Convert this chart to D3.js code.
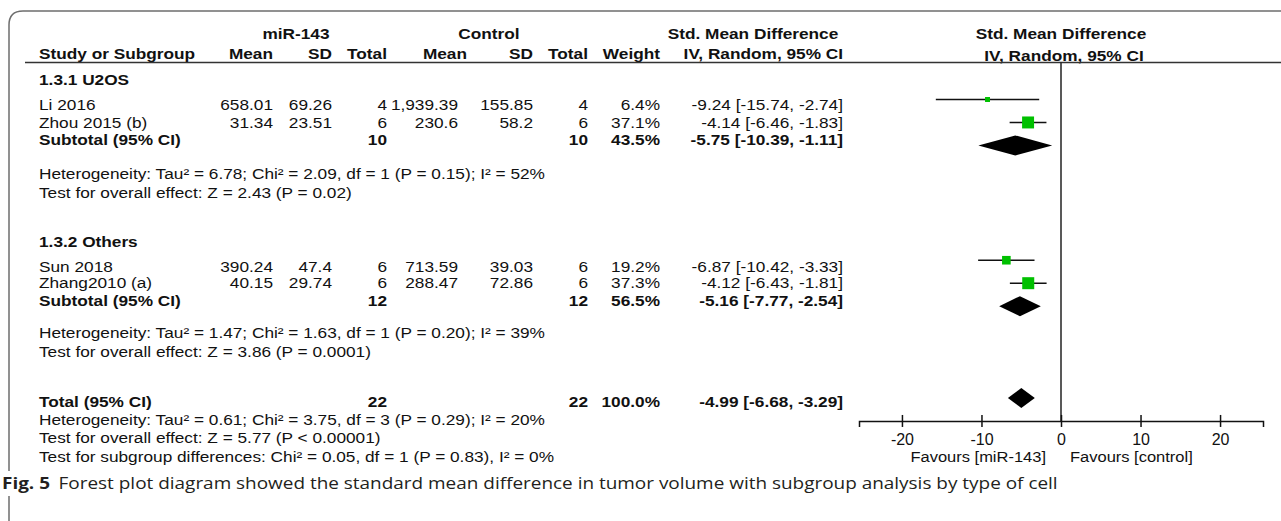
<!DOCTYPE html>
<html><head><meta charset="utf-8">
<script src="https://cdn.jsdelivr.net/npm/d3@7"></script>
<style>html,body{margin:0;padding:0;background:#fff}svg{display:block}</style>
</head><body>
<svg id="chart" width="1281" height="521"></svg>
<script>
// ---------- DATA ----------
const studies   = ["Li 2016", "Zhou 2015 (b)", "Sun 2018", "Zhang2010 (a)"];
const studyRow  = [0, 1, 7, 8];                 // row index in the forest table
const mirMean   = ["658.01", "31.34", "390.24", "40.15"];
const mirSD     = ["69.26", "23.51", "47.4", "29.74"];
const mirTotal  = [4, 6, 6, 6];
const ctrlMean  = ["1,939.39", "230.6", "713.59", "288.47"];
const ctrlSD    = ["155.85", "58.2", "39.03", "72.86"];
const ctrlTotal = [4, 6, 6, 6];
const weights   = [6.4, 37.1, 19.2, 37.3];
const smd       = [-9.24, -4.14, -6.87, -4.12];
const ciLow     = [-15.74, -6.46, -10.42, -6.43];
const ciHigh    = [-2.74, -1.83, -3.33, -1.81];

const subgroupNames = ["1.3.1 U2OS", "1.3.2 Others"];
const subgroupRow   = [-1, 6];

const pooledLabels    = ["Subtotal (95% CI)", "Subtotal (95% CI)", "Total (95% CI)"];
const pooledRow       = [2, 9, 13];
const pooledMirTotal  = [10, 12, 22];
const pooledCtrlTotal = [10, 12, 22];
const pooledWeight    = [43.5, 56.5, 100.0];
const pooledSmd       = [-5.75, -5.16, -4.99];
const pooledLow       = [-10.39, -7.77, -6.68];
const pooledHigh      = [-1.11, -2.54, -3.29];

const statLines = [
  "Heterogeneity: Tau\u00b2 = 6.78; Chi\u00b2 = 2.09, df = 1 (P = 0.15); I\u00b2 = 52%",
  "Test for overall effect: Z = 2.43 (P = 0.02)",
  "Heterogeneity: Tau\u00b2 = 1.47; Chi\u00b2 = 1.63, df = 1 (P = 0.20); I\u00b2 = 39%",
  "Test for overall effect: Z = 3.86 (P = 0.0001)",
  "Heterogeneity: Tau\u00b2 = 0.61; Chi\u00b2 = 3.75, df = 3 (P = 0.29); I\u00b2 = 20%",
  "Test for overall effect: Z = 5.77 (P < 0.00001)",
  "Test for subgroup differences: Chi\u00b2 = 0.05, df = 1 (P = 0.83), I\u00b2 = 0%"
];
const statRow = [3, 4, 10, 11, 14, 15, 16];

const xTicks = [-20, -10, 0, 10, 20];
const favourLeft = "Favours [miR-143]";
const favourRight = "Favours [control]";
const captionBold = "Fig. 5";
const captionText = "Forest plot diagram showed the standard mean difference in tumor volume with subgroup analysis by type of cell";

// ---------- LAYOUT ----------
const FONT = "'Liberation Sans', Arial, Helvetica, sans-serif";
const FS = 15, SX = 1.15;
// table text baselines per row index (table rows are not evenly spaced in the figure)
const tableBaseline = {"-1":85, 0:110, 1:128, 2:144.5, 3:179, 4:197.5, 6:247, 7:271.7, 8:288, 9:306, 10:338, 11:357, 13:407, 14:425, 15:443, 16:462};
const col = {study:39, mirMean:273, mirSD:332, mirTotal:387, ctrlMean:458, ctrlSD:533, ctrlTotal:588, weight:660, ci:843};

const svg = d3.select("#chart");

// frame
svg.append("path")
  .attr("d", "M9,521 L9,25 Q9,11 23,11 L1281,11")
  .attr("fill", "none").attr("stroke", "#6e6e6e").attr("stroke-width", 1.5);

function txt(x, y, s, anchor, bold, sx, fs) {
  return svg.append("text")
    .attr("transform", `translate(${x},${y}) scale(${sx || SX},1)`)
    .attr("text-anchor", anchor || "start")
    .attr("font-family", FONT).attr("font-size", fs || FS)
    .attr("font-weight", bold ? "bold" : "normal")
    .attr("fill", "#111")
    .text(s);
}

// headers
txt(296, 39, "miR-143", "middle", true);
txt(489, 39, "Control", "middle", true);
txt(753, 39, "Std. Mean Difference", "middle", true);
txt(1061, 39, "Std. Mean Difference", "middle", true);
txt(col.study, 59, "Study or Subgroup", "start", true);
txt(col.mirMean, 59, "Mean", "end", true);
txt(col.mirSD, 59, "SD", "end", true);
txt(col.mirTotal, 59, "Total", "end", true);
txt(467, 59, "Mean", "end", true);
txt(col.ctrlSD, 59, "SD", "end", true);
txt(col.ctrlTotal, 59, "Total", "end", true);
txt(col.weight, 59, "Weight", "end", true);
txt(col.ci, 59, "IV, Random, 95% CI", "end", true);
txt(1064, 61, "IV, Random, 95% CI", "middle", true);

// header rule
svg.append("line").attr("x1", 25).attr("x2", 1281).attr("y1", 62.5).attr("y2", 62.5)
  .attr("stroke", "#333").attr("stroke-width", 1.5);

const fmtCI = (m, l, h) => `${m.toFixed(2)} [${l.toFixed(2)}, ${h.toFixed(2)}]`;

// subgroup headings
subgroupNames.forEach((s, i) => txt(col.study, tableBaseline[subgroupRow[i]], s, "start", true));

// study rows
studies.forEach((s, i) => {
  const y = tableBaseline[studyRow[i]];
  txt(col.study, y, s);
  txt(col.mirMean, y, mirMean[i], "end");
  txt(col.mirSD, y, mirSD[i], "end");
  txt(col.mirTotal, y, mirTotal[i], "end");
  txt(col.ctrlMean, y, ctrlMean[i], "end");
  txt(col.ctrlSD, y, ctrlSD[i], "end");
  txt(col.ctrlTotal, y, ctrlTotal[i], "end");
  txt(col.weight, y, weights[i].toFixed(1) + "%", "end");
  txt(col.ci, y, fmtCI(smd[i], ciLow[i], ciHigh[i]), "end");
});

// pooled rows
pooledLabels.forEach((s, i) => {
  const y = tableBaseline[pooledRow[i]];
  txt(col.study, y, s, "start", true);
  txt(col.mirTotal, y, pooledMirTotal[i], "end", true);
  txt(col.ctrlTotal, y, pooledCtrlTotal[i], "end", true);
  txt(col.weight, y, pooledWeight[i].toFixed(1) + "%", "end", true);
  txt(col.ci, y, fmtCI(pooledSmd[i], pooledLow[i], pooledHigh[i]), "end", true);
});

// stat lines
statLines.forEach((s, i) => txt(col.study, tableBaseline[statRow[i]], s));

// ---------- FOREST PLOT ----------
const x = d3.scaleLinear().domain([-25.4, 25.4]).range([859, 1263]);
const yPlot = d3.scaleLinear().domain([0, 13]).range([99.5, 398]);
const side = d3.scaleSqrt().domain([0, d3.max(weights)]).range([0, 12]);
const axisY = yPlot(14);

// zero line
svg.append("line").attr("x1", x(0)).attr("x2", x(0)).attr("y1", 62.5).attr("y2", axisY)
  .attr("stroke", "#222").attr("stroke-width", 1.5);

// CI lines
svg.append("g").selectAll("line").data(studies).join("line")
  .attr("x1", (d, i) => x(ciLow[i])).attr("x2", (d, i) => x(ciHigh[i]))
  .attr("y1", (d, i) => yPlot(studyRow[i])).attr("y2", (d, i) => yPlot(studyRow[i]))
  .attr("stroke", "#111").attr("stroke-width", 1.5);

// squares
svg.append("g").selectAll("rect").data(studies).join("rect")
  .attr("x", (d, i) => x(smd[i]) - side(weights[i]) / 2)
  .attr("y", (d, i) => yPlot(studyRow[i]) - side(weights[i]) / 2)
  .attr("width", (d, i) => side(weights[i]))
  .attr("height", (d, i) => side(weights[i]))
  .attr("fill", "#00c000");

// diamonds
svg.append("g").selectAll("path").data(pooledLabels).join("path")
  .attr("d", (d, i) => {
    const cy = yPlot(pooledRow[i]), h = 10;
    return `M${x(pooledLow[i])},${cy} L${x(pooledSmd[i])},${cy - h} L${x(pooledHigh[i])},${cy} L${x(pooledSmd[i])},${cy + h} Z`;
  })
  .attr("fill", "#000");

// axis
const axis = svg.append("g").attr("transform", `translate(0,${axisY})`)
  .call(d3.axisBottom(x).tickValues(xTicks).tickFormat(d => String(d))
    .tickSizeOuter(0).tickSize(6).tickPadding(0));
axis.select(".domain").attr("stroke", "#111").attr("stroke-width", 1.5);
axis.selectAll(".tick line").attr("y1", -6).attr("y2", 6).attr("stroke", "#111").attr("stroke-width", 1.5);
axis.selectAll(".tick text").attr("y", 24.5).attr("dy", null)
  .attr("font-family", FONT).attr("font-size", 16).attr("fill", "#111");

txt(x(0) - 15, 462, favourLeft, "end", false, 1.1);
txt(x(0) + 9, 462, favourRight, "start", false, 1.1);

// ---------- CAPTION ----------
svg.append("rect").attr("x", 0).attr("y", 471).attr("width", 1060).attr("height", 25).attr("fill", "#fff");
const cap = svg.append("text")
  .attr("font-family", "'Open Sans', 'Noto Sans', sans-serif").attr("font-size", 15.5)
  .attr("fill", "#231f20");
cap.append("tspan").attr("font-weight", "bold").text(captionBold);
cap.append("tspan").attr("dx", 7).text(captionText);
const w = cap.node().getComputedTextLength();
cap.attr("transform", `translate(2,488.5) scale(${1048 / w},1)`);
</script>
</body></html>
